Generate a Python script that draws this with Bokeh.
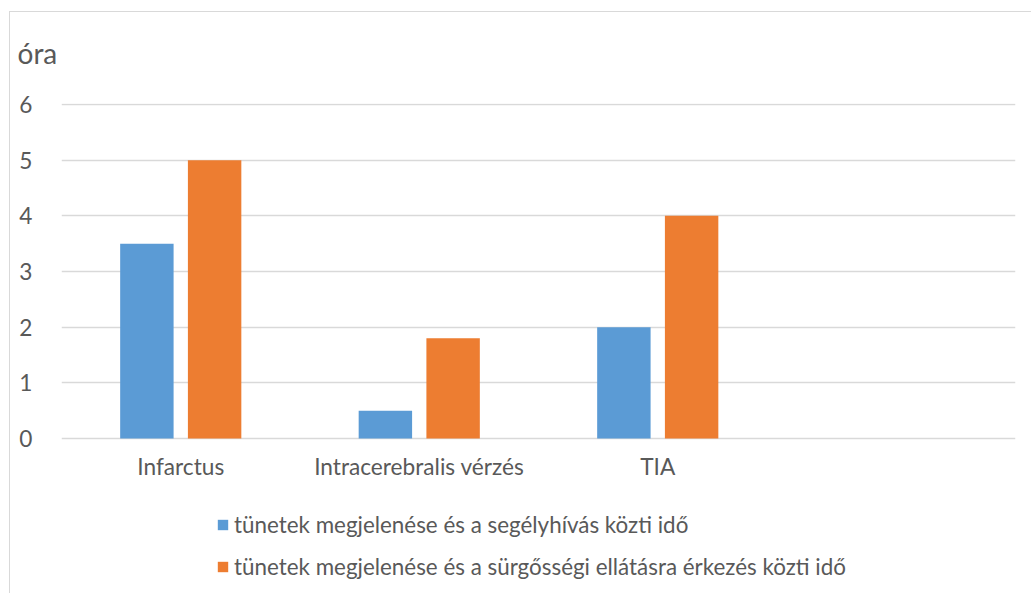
from bokeh.plotting import figure
from bokeh.models import (FactorRange, Range1d, FixedTicker, Legend, LegendItem,
                          ColumnDataSource)
from bokeh.transform import dodge
from bokeh.embed import file_html
from bokeh.resources import INLINE

# Data
categories = ["Infarctus", "Intracerebralis vérzés", "TIA", " "]
segelyhivas = [3.5, 0.5, 2.0]
erkezes = [5.0, 1.8, 4.0]
series_names = [
    "tünetek megjelenése és a segélyhívás közti idő",
    "tünetek megjelenése és a sürgősségi ellátásra érkezés közti idő",
]
y_ticks = [0, 1, 2, 3, 4, 5, 6]
y_unit = "óra"

BLUE = "#5B9BD5"
ORANGE = "#ED7D31"
GRID = "#D9D9D9"
TEXT = "#595959"
FONT = "Lato"

src = ColumnDataSource(dict(
    cat=categories[:3],
    a=segelyhivas,
    b=erkezes,
))

# The frame runs down to the bottom edge so the legend can sit inside it;
# the value range below zero is left empty.
W, H = 1022, 582
p = figure(
    width=W, height=H,
    x_range=FactorRange(*categories, range_padding=0),
    y_range=Range1d(-2.8024, 6.018),
    x_axis_location="above",
    output_backend="svg", toolbar_location=None,
    min_border_left=51, min_border_right=17,
    min_border_top=91, min_border_bottom=0,
)
p.styles = {
    "margin-left": "9px", "margin-top": "11px",
    "border-left": "1px solid #D9D9D9", "border-top": "1px solid #D9D9D9",
}
p.outline_line_color = None
p.background_fill_color = "white"
p.border_fill_color = "white"

ra = p.vbar(x=dodge("cat", -0.142, range=p.x_range), top="a", width=0.224,
            source=src, fill_color=BLUE, line_color=None)
rb = p.vbar(x=dodge("cat", 0.142, range=p.x_range), top="b", width=0.224,
            source=src, fill_color=ORANGE, line_color=None)

# Category axis pinned to the zero line, labels hanging below it
p.xaxis.fixed_location = 0
p.xaxis.axis_line_color = None
p.xaxis.major_tick_line_color = None
p.xaxis.minor_tick_line_color = None
p.xaxis.major_label_text_color = TEXT
p.xaxis.major_label_text_font = FONT
p.xaxis.major_label_text_font_size = "17pt"
p.xaxis.major_label_standoff = -47

p.yaxis.ticker = FixedTicker(ticks=y_ticks)
p.yaxis.axis_line_color = None
p.yaxis.major_tick_line_color = None
p.yaxis.minor_tick_line_color = None
p.yaxis.major_label_text_color = TEXT
p.yaxis.major_label_text_font = FONT
p.yaxis.major_label_text_font_size = "17pt"
p.yaxis.major_label_standoff = 23

p.xgrid.grid_line_color = None
p.ygrid.grid_line_color = GRID
p.ygrid.grid_line_width = 1.5

# Unit caption above the value axis; the empty second line lifts it clear
# of the top gridline without growing the top border.
p.title.text = y_unit + "\n "
p.title.align = "left"
p.title.offset = -44
p.title.standoff = 2
p.title.text_line_height = 0.97
p.title.text_font = FONT
p.title.text_font_size = "21pt"
p.title.text_font_style = "normal"
p.title.text_color = TEXT

legend = Legend(items=[LegendItem(label=series_names[0], renderers=[ra]),
                       LegendItem(label=series_names[1], renderers=[rb])],
                location=(155, 14), orientation="vertical")
legend.border_line_color = None
legend.background_fill_alpha = 0
legend.padding = 0
legend.margin = 0
legend.spacing = 15
legend.glyph_width = 13
legend.glyph_height = 13
legend.label_standoff = 5
legend.label_text_font = FONT
legend.label_text_font_size = "16.8pt"
legend.label_text_color = TEXT
p.add_layout(legend, "center")

open("out.html", "w").write(file_html(p, INLINE))
